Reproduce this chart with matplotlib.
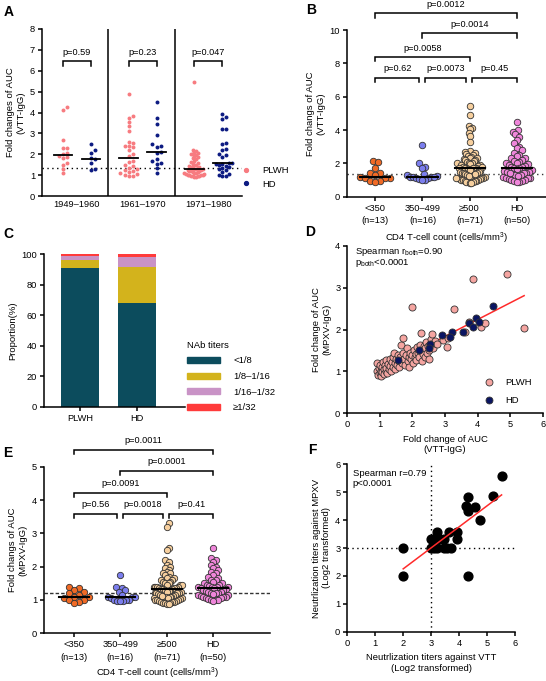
import numpy as np
import matplotlib.pyplot as plt
from matplotlib.lines import Line2D
from matplotlib.patches import Patch

plt.rcParams['font.family'] = ['Liberation Sans', 'DejaVu Sans']
plt.rcParams['mathtext.default'] = 'regular'
plt.rcParams['font.size'] = 6.7
plt.rcParams['axes.linewidth'] = 1.1
plt.rcParams['xtick.major.width'] = 1.1
plt.rcParams['ytick.major.width'] = 1.1
plt.rcParams['xtick.major.size'] = 3
plt.rcParams['ytick.major.size'] = 3
plt.rcParams['xtick.major.pad'] = 2
plt.rcParams['ytick.major.pad'] = 2

# ---------------- data ----------------
# A: fold change VTT-IgG by birth cohort
a_cohorts = ["1949–1960", "1961–1970", "1971–1980"]
a_plwh_1 = [4.25, 4.1, 2.7, 2.3, 2.3, 2.05, 2.0, 1.9, 1.85, 1.8, 1.6, 1.5, 1.3, 1.1]
a_hd_1 = [2.5, 2.2, 2.05, 1.8, 1.75, 1.6, 1.3, 1.25]
a_plwh_2 = [4.9, 3.85, 3.75, 3.55, 3.35, 3.1, 2.6, 2.55, 2.4, 2.4, 2.35, 2.2, 2.0, 1.9,
            1.7, 1.65, 1.5, 1.45, 1.35, 1.3, 1.25, 1.2, 1.15, 1.1, 1.05, 1.0, 0.95, 0.95]
a_hd_2 = [4.5, 3.75, 3.45, 2.9, 2.5, 2.4, 2.35, 2.1, 2.05, 1.75, 1.7, 1.6, 1.55, 1.35, 1.1]
a_plwh_3 = [5.45, 2.2, 2.15, 2.1, 2.05, 2.0, 2.0, 1.95, 1.9, 1.85, 1.8, 1.75, 1.7, 1.65,
            1.6, 1.55, 1.5, 1.5, 1.45, 1.4, 1.4, 1.35, 1.35, 1.3, 1.3, 1.3, 1.25, 1.25,
            1.2, 1.2, 1.2, 1.15, 1.15, 1.1, 1.1, 1.1, 1.05, 1.05, 1.0, 1.0, 1.0, 1.0,
            0.95, 0.95, 0.95, 0.95, 0.9, 0.9]
a_hd_3 = [3.95, 3.8, 3.7, 3.2, 3.2, 2.55, 2.5, 2.25, 2.2, 2.0, 1.95, 1.85, 1.6, 1.6,
          1.55, 1.55, 1.5, 1.45, 1.4, 1.35, 1.3, 1.25, 1.15, 1.05, 1.0, 0.95, 0.95]
a_pvals = ["p=0.59", "p=0.23", "p=0.047"]
a_cutoff = 1.33

# B / E: CD4 groups
cd4_labels = ["<350\n(n=13)", "350–499\n(n=16)", "≥500\n(n=71)", "HD\n(n=50)"]
b_lt350 = [2.15, 2.1, 1.75, 1.45, 1.4, 1.3, 1.2, 1.15, 1.1, 1.1, 0.95, 0.95, 0.9]
b_350_499 = [3.1, 2.0, 1.8, 1.75, 1.35, 1.3, 1.25, 1.2, 1.2, 1.2, 1.2, 1.15, 1.1, 1.05, 1.0, 1.0]
b_ge500 = [5.45, 4.9, 4.25, 4.15, 4.05, 3.85, 3.65, 3.3,
           2.75, 2.7, 2.6, 2.55, 2.5, 2.45, 2.4, 2.35, 2.3, 2.25, 2.2, 2.2, 2.15, 2.1, 2.05, 2.0, 2.0,
           1.95, 1.9, 1.9, 1.85, 1.8, 1.8, 1.75, 1.75, 1.72, 1.72, 1.72,
           1.7, 1.65, 1.6, 1.6, 1.55, 1.5, 1.5, 1.45, 1.4, 1.4, 1.35, 1.3, 1.3, 1.25, 1.2, 1.2,
           1.15, 1.1, 1.1, 1.05, 1.05, 1.0, 1.0, 1.0, 0.95, 0.95, 0.95, 0.9, 0.9, 0.9, 0.85,
           0.85, 1.25, 1.15, 1.35]
b_hd = [4.5, 4.0, 3.9, 3.75, 3.6, 3.4, 3.2, 3.0, 2.95,
        2.8, 2.6, 2.5, 2.45, 2.35, 2.3, 2.2, 2.15, 2.1, 2.05, 2.0, 1.95, 1.9, 1.85, 1.8, 1.78,
        1.72, 1.7, 1.65, 1.6, 1.55, 1.5, 1.5, 1.45, 1.4, 1.35, 1.3, 1.3, 1.25, 1.2, 1.15,
        1.1, 1.1, 1.05, 1.0, 1.0, 0.95, 0.95, 0.9, 0.9, 1.4]
b_cutoff = 1.35
b_pvals = [("p=0.62", 0, 1, 7.15), ("p=0.0073", 1, 2, 7.15), ("p=0.45", 2, 3, 7.15),
           ("p=0.0058", 0, 2, 8.4), ("p=0.0014", 1, 3, 9.8), ("p=0.0012", 0, 3, 11.0)]

e_lt350 = [1.4, 1.35, 1.3, 1.25, 1.2, 1.15, 1.1, 1.1, 1.05, 1.0, 1.0, 0.95, 0.9]
e_350_499 = [1.75, 1.4, 1.35, 1.3, 1.25, 1.15, 1.1, 1.1, 1.1, 1.05, 1.0, 1.0, 1.0, 0.98, 0.97, 0.97]
e_ge500 = [3.3, 3.2, 2.55, 2.5, 2.2, 2.15, 2.05, 2.0, 1.95, 1.9, 1.85, 1.8, 1.8, 1.75, 1.7,
           1.65, 1.65, 1.6, 1.6, 1.55, 1.55, 1.5, 1.5, 1.45, 1.45, 1.45, 1.4, 1.4, 1.4, 1.38,
           1.36, 1.35, 1.35, 1.34, 1.33, 1.32,
           1.3, 1.3, 1.28, 1.25, 1.25, 1.22, 1.2, 1.2, 1.2, 1.18, 1.15, 1.15, 1.12, 1.1, 1.1,
           1.1, 1.08, 1.05, 1.05, 1.05, 1.02, 1.0, 1.0, 1.0, 0.98, 0.97, 0.95, 0.95, 0.93,
           0.92, 0.9, 0.9, 0.88, 0.88, 1.12]
e_hd = [2.55, 2.25, 2.2, 2.15, 2.05, 2.0, 1.95, 1.9, 1.85, 1.8, 1.75, 1.7, 1.65, 1.6, 1.6,
        1.55, 1.5, 1.5, 1.45, 1.45, 1.42, 1.4, 1.4, 1.38, 1.38,
        1.36, 1.35, 1.33, 1.3, 1.3, 1.28, 1.25, 1.25, 1.22, 1.2, 1.2, 1.18, 1.15, 1.15, 1.12,
        1.1, 1.1, 1.08, 1.05, 1.05, 1.02, 1.0, 1.0, 1.0, 0.98]
e_cutoff = 1.2
e_pvals = [("p=0.56", 0, 1, 3.58), ("p=0.0018", 1, 2, 3.58), ("p=0.41", 2, 3, 3.58),
           ("p=0.0091", 0, 2, 4.22), ("p=0.0001", 1, 3, 4.87), ("p=0.0011", 0, 3, 5.5)]

# C: NAb titer proportions (%)
c_groups = ["PLWH", "HD"]
c_titers = ["<1/8", "1/8–1/16", "1/16–1/32", "≥1/32"]
c_lt8 = [91, 68]
c_8_16 = [5, 24]
c_16_32 = [3, 6]
c_ge32 = [1, 2]

# D: VTT vs MPXV fold change
d_plwh_x = [0.92, 0.92, 0.95, 0.97, 1.00, 1.00, 1.03, 1.05, 1.06, 1.08, 1.10, 1.12, 1.13, 1.15,
            1.18, 1.20, 1.20, 1.23, 1.25, 1.28, 1.30, 1.32, 1.35, 1.36, 1.40, 1.40, 1.43, 1.45,
            1.48, 1.50, 1.52, 1.55, 1.58, 1.60,
            1.62, 1.65, 1.68, 1.70, 1.72, 1.75, 1.78, 1.80, 1.83, 1.85, 1.88, 1.90, 1.92, 1.95,
            1.98, 2.00, 2.02, 2.05, 2.08, 2.10, 2.12, 2.15, 2.18, 2.20, 2.22, 2.25, 2.28, 2.30,
            2.32, 2.35, 2.38, 2.40, 2.42, 2.45, 2.48, 2.50, 2.52, 2.55, 2.58, 2.60, 2.62, 2.65,
            2.70, 2.75,
            2.95, 3.05, 3.08, 3.27, 3.60, 3.75, 3.85, 4.10, 4.22, 4.91, 5.43]
d_plwh_y = [1.20, 1.00, 0.92, 1.08, 0.95, 1.15, 1.02, 0.90, 1.10, 0.98, 1.22, 1.05, 0.93, 1.15,
            1.00, 1.28, 1.08, 0.96, 1.18, 1.05, 1.30, 1.12, 1.00, 1.22, 1.35, 1.10, 1.45, 1.20,
            1.05, 1.30, 1.15, 1.40, 1.25, 1.10,
            1.35, 1.62, 1.20, 1.45, 1.80, 1.30, 1.15, 1.40, 1.55, 1.25, 1.35, 1.10, 1.45, 1.30,
            1.40, 2.54, 1.20, 1.50, 1.35, 1.42, 1.28, 1.58, 1.45, 1.35, 1.62, 1.92, 1.50, 1.25,
            1.42, 1.60, 1.35, 1.55, 1.70, 1.45, 1.60, 1.30, 1.50, 1.65, 1.78, 1.90, 1.55, 1.68,
            1.72, 1.65,
            1.75, 1.58, 1.80, 2.48, 1.95, 2.18, 3.20, 2.05, 2.15, 3.32, 2.04]
d_hd_x = [4.46, 3.95, 3.75, 4.05, 3.85, 3.55, 3.2, 2.9, 3.15, 2.55, 2.5, 2.2, 1.55]
d_hd_y = [2.57, 2.27, 2.15, 2.17, 2.06, 1.93, 1.93, 1.88, 1.82, 1.65, 1.57, 1.50, 1.27]

# F: neutralization titers (log2)
f_vtt = [2.0, 2.0, 3.0, 3.17, 3.32, 3.46, 3.91, 3.22, 3.65, 3.91, 3.0, 3.1, 3.22, 3.46,
         3.58, 3.7, 4.25, 4.32, 4.32, 4.58, 4.75, 5.2, 5.52, 4.32]
f_mpxv = [3.0, 2.0, 3.32, 3.32, 3.32, 3.32, 3.32, 3.58, 3.58, 3.58, 3.0, 3.0, 3.0, 3.0,
          3.0, 3.0, 4.5, 4.82, 4.32, 4.48, 4.0, 4.86, 5.58, 2.0]

# ---------------- styles ----------------
col_plwh_a = "#F77B80"
col_hd_a = "#0D1B82"
col_cd4 = ["#F06A25", "#7B7EEE", "#F6CF9E", "#EF86DA"]
col_titer = ["#0C4C5D", "#D3B31C", "#C993C6", "#FF3B3B"]
col_plwh_d = "#F5A5A1"
col_hd_d = "#0A1562"
red = "#FF2A2A"

W, H = 546, 681
fig = plt.figure(figsize=(W / 100, H / 100), dpi=100)


def px_axes(l, t, r, b):
    ax = fig.add_axes([l / W, 1 - b / H, (r - l) / W, (b - t) / H])
    ax.spines['top'].set_visible(False)
    ax.spines['right'].set_visible(False)
    return ax


def swarm(ax, xc, vals, diam, maxw):
    # simple beeswarm in pixel space, squeezed to +-maxw px, returns x in data units
    tr = ax.transData
    ppu = tr.transform((xc + 1, 0))[0] - tr.transform((xc, 0))[0]
    ys = np.array([tr.transform((xc, v))[1] for v in vals])
    offs = np.zeros(len(vals))
    placed = []
    step = diam * 0.5
    cands = [0.0]
    for k in range(1, 80):
        cands += [k * step, -k * step]
    for i in np.argsort(vals):
        for c in cands:
            ok = True
            for (ox, oy) in placed:
                if (c - ox) ** 2 + (ys[i] - oy) ** 2 < (diam * 0.95) ** 2:
                    ok = False
                    break
            if ok:
                offs[i] = c
                placed.append((c, ys[i]))
                break
    big = np.abs(offs).max()
    if big > maxw:
        offs = offs * maxw / big
    return xc + offs / ppu


def bracket(ax, x1, x2, y, h, txt, tgap):
    ax.plot([x1, x1, x2, x2], [y - h, y, y, y - h], color='k', lw=1.1, clip_on=False,
            solid_joinstyle='miter')
    ax.text((x1 + x2) / 2, y + tgap, txt, ha='center', va='bottom', fontsize=6.6, clip_on=False)


# ---------------- A ----------------
axA = px_axes(42, 29, 242, 196)
axA.set_xlim(-0.75, 6.4)
axA.set_ylim(0, 8)
a_pos = [0, 1, 2.35, 3.35, 4.7, 5.7]
a_sets = [a_plwh_1, a_hd_1, a_plwh_2, a_hd_2, a_plwh_3, a_hd_3]
for i, vals in enumerate(a_sets):
    col = col_plwh_a if i % 2 == 0 else col_hd_a
    xs = swarm(axA, a_pos[i], vals, 4.2, 10)
    axA.scatter(xs, vals, s=8, color=col, linewidths=0, zorder=3)
    m = np.median(vals)
    axA.plot([a_pos[i] - 0.33, a_pos[i] + 0.33], [m, m], color='k', lw=1.3, zorder=4)
for d in [1.6, 4.0]:
    axA.axvline(d, color='k', lw=1.1)
axA.axhline(a_cutoff, color='k', lw=1, ls=(0, (1, 2.5)), zorder=2)
for g in range(3):
    bracket(axA, a_pos[2 * g], a_pos[2 * g + 1], 6.45, 0.2, a_pvals[g], 0.2)
axA.set_xticks([(a_pos[2 * g] + a_pos[2 * g + 1]) / 2 for g in range(3)])
axA.set_xticklabels(a_cohorts)
axA.tick_params(axis='x', length=0, pad=3)
axA.set_yticks(range(0, 9))
axA.set_ylabel("Fold changes of AUC\n(VTT-IgG)", fontsize=6.8, labelpad=3)
axA.legend(handles=[Line2D([], [], marker='o', ls='', color=col_plwh_a, markersize=2.8, label="PLWH"),
                    Line2D([], [], marker='o', ls='', color=col_hd_a, markersize=2.8, label="HD")],
           loc='upper left', bbox_to_anchor=(241 / W, 1 - 166 / H), bbox_transform=fig.transFigure,
           frameon=False, fontsize=6.8, handlelength=1.0, handletextpad=1.2,
           labelspacing=0.5, borderpad=0, borderaxespad=0)


def cd4_panel(ax, groups, cutoff, pvals, diam, ms, cut_ls, h, tgap):
    for i, vals in enumerate(groups):
        xs = swarm(ax, i, vals, diam, 15)
        ax.scatter(xs, vals, s=ms, color=col_cd4[i], edgecolors='#333333', linewidths=0.6, zorder=3)
        m = np.median(vals)
        ax.plot([i - 0.32, i + 0.32], [m, m], color='k', lw=1.5, zorder=4)
    ax.axhline(cutoff, color='#333333', lw=1, ls=cut_ls, zorder=2)
    for txt, g1, g2, y in pvals:
        x1 = g1 + (0.05 if g2 - g1 == 1 and g1 > 0 else 0)
        x2 = g2 - (0.07 if g2 - g1 == 1 and g2 < 3 else 0)
        bracket(ax, x1, x2, y, h, txt, tgap)
    ax.set_xticks(range(4))
    ax.set_xticklabels(cd4_labels, linespacing=1.5)


# ---------------- B ----------------
axB = px_axes(347, 30, 546, 196.7)
axB.set_xlim(-0.6, 3.62)
axB.set_ylim(0, 10)
cd4_panel(axB, [b_lt350, b_350_499, b_ge500, b_hd], b_cutoff, b_pvals, 6.6, 22,
          (0, (1, 2.5)), 0.28, 0.25)
axB.set_yticks(range(0, 11, 2))
axB.set_ylabel("Fold changs of AUC\n(VTT-IgG)", fontsize=6.8, labelpad=3)
axB.set_xlabel("CD4 T-cell count (cells/mm$^3$)", fontsize=6.8, labelpad=4)

# ---------------- C ----------------
axC = px_axes(44, 254.3, 185, 407)
axC.set_xlim(-0.63, 1.84)
axC.set_ylim(0, 100)
bottom = np.zeros(2)
for vals, col, lab in zip([c_lt8, c_8_16, c_16_32, c_ge32], col_titer, c_titers):
    axC.bar([0, 1], vals, width=0.65, bottom=bottom, color=col, label=lab)
    bottom = bottom + np.array(vals)
axC.set_xticks([0, 1])
axC.set_xticklabels(c_groups)
axC.set_yticks(range(0, 101, 20))
axC.set_ylabel("Proportion(%)", fontsize=6.8, labelpad=3)
legC = axC.legend(handles=[Patch(color=c, label=l) for c, l in zip(col_titer, c_titers)],
                  title="NAb titers", loc='upper left', bbox_to_anchor=(182 / W, 1 - 336 / H),
                  bbox_transform=fig.transFigure, frameon=False, fontsize=6.8, title_fontsize=6.8,
                  handlelength=3.5, handleheight=0.6, handletextpad=1.4, labelspacing=0.7,
                  borderpad=0, alignment='left')

# ---------------- D ----------------
axD = px_axes(347.3, 245.7, 542.7, 413.3)
axD.set_xlim(0, 6)
axD.set_ylim(0, 4)
all_x = np.array(d_plwh_x + d_hd_x)
all_y = np.array(d_plwh_y + d_hd_y)
k, b0 = np.polyfit(all_x, all_y, 1)
xl = np.array([all_x.min(), all_x.max()])
axD.plot(xl, k * xl + b0, color=red, lw=1.1, zorder=2)
axD.scatter(d_plwh_x, d_plwh_y, s=26, color=col_plwh_d, edgecolors='#333333', linewidths=0.6, zorder=3)
axD.scatter(d_hd_x, d_hd_y, s=26, color=col_hd_d, edgecolors='#333333', linewidths=0.6, zorder=4)
axD.set_xticks(range(0, 7))
axD.set_yticks(range(0, 5))
axD.set_xlabel("Fold change of AUC\n(VTT-IgG)", fontsize=6.8, labelpad=4)
axD.set_ylabel("Fold change of AUC\n(MPXV-IgG)", fontsize=6.8, labelpad=3)
axD.text(0.04, 0.962, "Spearman r$_{both}$=0.90", transform=axD.transAxes, va='center', fontsize=6.8)
axD.text(0.04, 0.897, "p$_{both}$<0.0001", transform=axD.transAxes, va='center', fontsize=6.8)
axD.legend(handles=[Line2D([], [], marker='o', ls='', mfc=col_plwh_d, mec='#333333', mew=0.6,
                           markersize=5, label="PLWH"),
                    Line2D([], [], marker='o', ls='', mfc=col_hd_d, mec='#333333', mew=0.6,
                           markersize=5, label="HD")],
           loc='upper left', bbox_to_anchor=(484 / W, 1 - 378 / H), bbox_transform=fig.transFigure,
           frameon=False, fontsize=6.8, handlelength=1.0, handletextpad=1.2, labelspacing=0.95,
           borderpad=0, borderaxespad=0)

# ---------------- E ----------------
axE = px_axes(44, 466.7, 270, 633.3)
axE.set_xlim(-0.65, 4.23)
axE.set_ylim(0, 5)
cd4_panel(axE, [e_lt350, e_350_499, e_ge500, e_hd], e_cutoff, e_pvals, 6.4, 21,
          (0, (2.5, 1.5)), 0.13, 0.15)
axE.set_yticks(range(0, 6))
axE.set_ylabel("Fold changs of AUC\n(MPXV-IgG)", fontsize=6.8, labelpad=3)
axE.set_xlabel("CD4 T-cell count (cells/mm$^3$)", fontsize=6.8, labelpad=3)

# ---------------- F ----------------
axF = px_axes(347.3, 464.3, 515, 631.7)
axF.set_xlim(0, 6)
axF.set_ylim(0, 6)
axF.axvline(3, color='k', lw=1, ls=(0, (1, 2.5)), zorder=1)
axF.axhline(3, color='k', lw=1, ls=(0, (1, 2.5)), zorder=1)
axF.scatter(f_vtt, f_mpxv, s=40, color='k', zorder=3)
kf, bf = np.polyfit(f_vtt, f_mpxv, 1)
xf = np.array([min(f_vtt), max(f_vtt)])
axF.plot(xf, kf * xf + bf, color=red, lw=1.1, zorder=4)
axF.set_xticks(range(0, 7))
axF.set_yticks(range(0, 7))
axF.set_xlabel("Neutrlization titers against VTT\n(Log2 transformed)", fontsize=6.8, labelpad=4)
axF.set_ylabel("Neutrlization titers against MPXV\n(Log2 transformed)", fontsize=6.8, labelpad=3)
axF.text(0.032, 0.946, "Spearman r=0.79", transform=axF.transAxes, va='center', fontsize=6.8)
axF.text(0.032, 0.886, "p<0.0001", transform=axF.transAxes, va='center', fontsize=6.8)

for ax in [axA, axB, axC, axD, axE, axF]:
    ax.tick_params(labelsize=6.7)

# panel letters
for lab, x, y in [("A", 4, 12), ("B", 306, 10), ("C", 3, 234), ("D", 305, 232),
                  ("E", 3, 453), ("F", 308, 450)]:
    fig.text(x / W, 1 - y / H, lab, fontsize=10, fontweight='bold', va='center')

fig.savefig("out.png", dpi=100)
